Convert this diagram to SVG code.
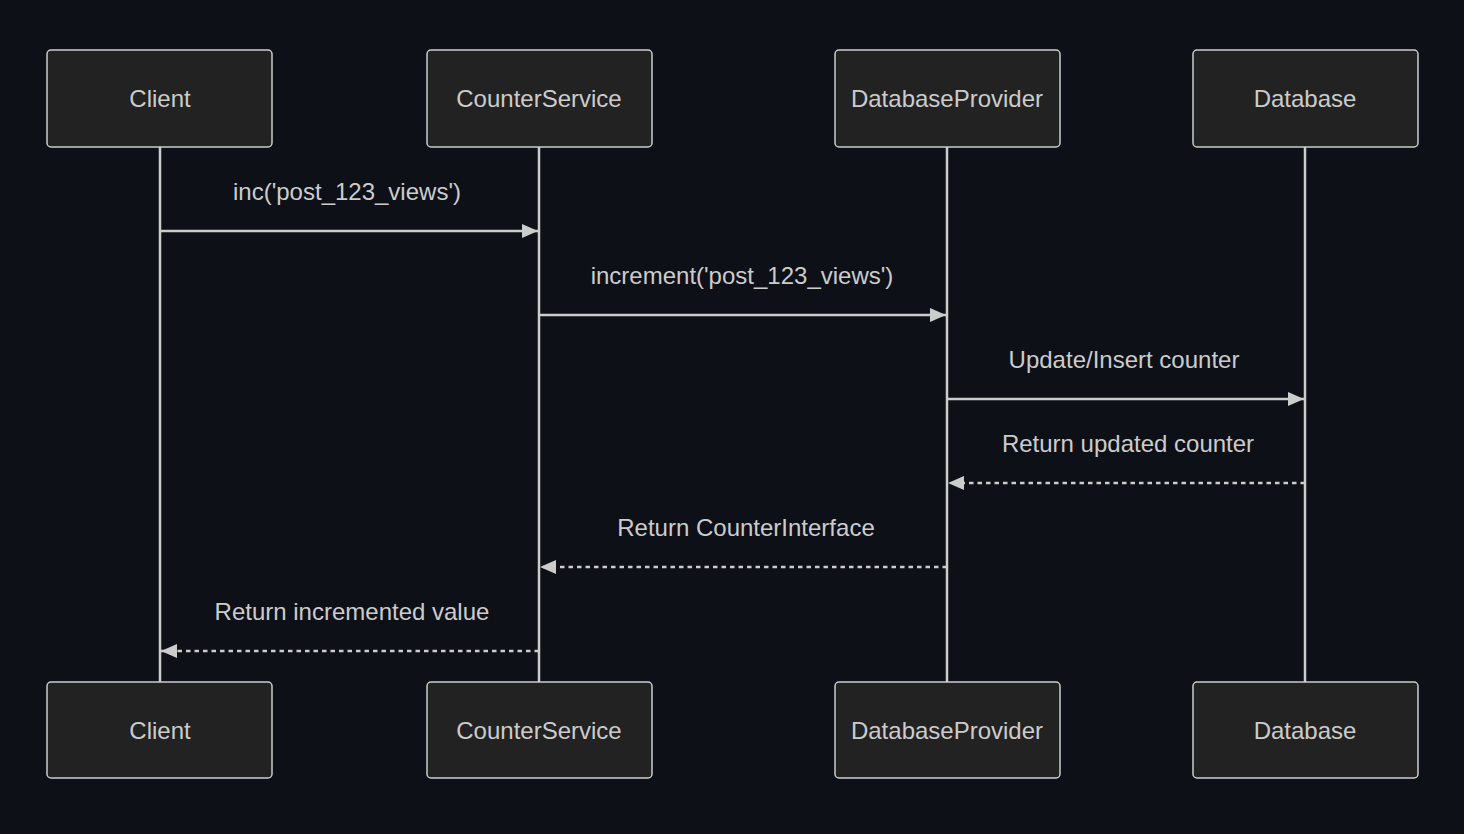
<svg xmlns="http://www.w3.org/2000/svg" width="1464" height="834" viewBox="0 0 1464 834">
<defs>
<style>
.box{fill:#222222;stroke:#cccccc;stroke-width:1.5}
.lbl{font-family:"Liberation Sans",Arial,sans-serif;font-size:24px;fill:#cccccc;text-anchor:middle;dominant-baseline:central}
.life{stroke:#cccccc;stroke-width:2.5}
.msg{stroke:#cccccc;stroke-width:2.5;fill:none}
.dash{stroke-dasharray:4.5 4}
.mtxt{font-family:"Liberation Sans",Arial,sans-serif;font-size:24px;fill:#cccccc;text-anchor:middle;dominant-baseline:central}
</style>
<marker id="ah" viewBox="0 0 16 14" refX="16" refY="7" markerWidth="16" markerHeight="14" markerUnits="userSpaceOnUse" orient="auto">
<path d="M0,0 L16,7 L0,14 Z" fill="#cccccc"/>
</marker>
</defs>
<rect width="1464" height="834" fill="#0d1017"/>
<g id="lifelines">
<line class="life" x1="160" y1="147" x2="160" y2="682"/>
<line class="life" x1="539" y1="147" x2="539" y2="682"/>
<line class="life" x1="947" y1="147" x2="947" y2="682"/>
<line class="life" x1="1305" y1="147" x2="1305" y2="682"/>
</g>
<g id="client-top"><rect class="box" x="47" y="50" width="225" height="97" rx="4"/><text class="lbl" x="160" y="98">Client</text></g>
<g id="counterservice-top"><rect class="box" x="427" y="50" width="225" height="97" rx="4"/><text class="lbl" x="539" y="98">CounterService</text></g>
<g id="databaseprovider-top"><rect class="box" x="835" y="50" width="225" height="97" rx="4"/><text class="lbl" x="947" y="98">DatabaseProvider</text></g>
<g id="database-top"><rect class="box" x="1193" y="50" width="225" height="97" rx="4"/><text class="lbl" x="1305" y="98">Database</text></g>
<g id="client-bottom"><rect class="box" x="47" y="682" width="225" height="96" rx="4"/><text class="lbl" x="160" y="730">Client</text></g>
<g id="counterservice-bottom"><rect class="box" x="427" y="682" width="225" height="96" rx="4"/><text class="lbl" x="539" y="730">CounterService</text></g>
<g id="databaseprovider-bottom"><rect class="box" x="835" y="682" width="225" height="96" rx="4"/><text class="lbl" x="947" y="730">DatabaseProvider</text></g>
<g id="database-bottom"><rect class="box" x="1193" y="682" width="225" height="96" rx="4"/><text class="lbl" x="1305" y="730">Database</text></g>
<g id="connectors">
<line class="msg" x1="160" y1="231" x2="538" y2="231" marker-end="url(#ah)"/>
<text class="mtxt" x="347" y="191">inc('post_123_views')</text>
<line class="msg" x1="539" y1="315" x2="946" y2="315" marker-end="url(#ah)"/>
<text class="mtxt" x="742" y="275">increment('post_123_views')</text>
<line class="msg" x1="947" y1="399" x2="1304" y2="399" marker-end="url(#ah)"/>
<text class="mtxt" x="1124" y="359">Update/Insert counter</text>
<line class="msg dash" x1="1305" y1="483" x2="948" y2="483" marker-end="url(#ah)"/>
<text class="mtxt" x="1128" y="443">Return updated counter</text>
<line class="msg dash" x1="947" y1="567" x2="540" y2="567" marker-end="url(#ah)"/>
<text class="mtxt" x="746" y="527">Return CounterInterface</text>
<line class="msg dash" x1="539" y1="651" x2="161" y2="651" marker-end="url(#ah)"/>
<text class="mtxt" x="352" y="611">Return incremented value</text>
</g>
</svg>
